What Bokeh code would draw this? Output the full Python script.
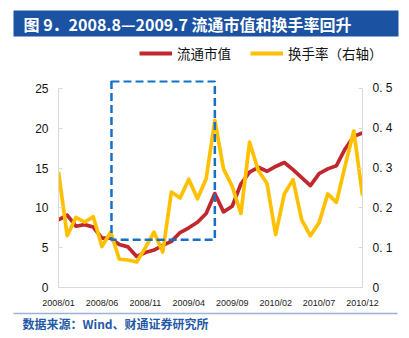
from bokeh.plotting import figure
from bokeh.models import (Range1d, LinearAxis, FixedTicker, BoxAnnotation,
                          Legend, LegendItem, CustomJSTickFormatter)
from bokeh.core.properties import value
from bokeh.embed import file_html
from bokeh.resources import INLINE

# ---- data ----
month_index = list(range(36))
tick_positions = [0, 5, 10, 15, 20, 25, 30, 35]
tick_labels = ["2008/01", "2008/06", "2008/11", "2009/04", "2009/09", "2010/02", "2010/07", "2010/12"]

market_value = [8.5, 9.1, 7.7, 7.9, 7.6, 6.2, 6.2, 5.4, 5.1, 3.9, 4.4, 4.7, 5.3, 5.8, 6.9, 7.5,
                8.2, 9.3, 11.8, 9.5, 10.2, 13.0, 14.5, 15.1, 14.6, 15.2, 15.7, 14.8, 13.8, 12.8,
                14.3, 14.9, 15.3, 17.4, 19.0, 19.4]
turnover = [0.29, 0.13, 0.176, 0.164, 0.178, 0.103, 0.139, 0.071, 0.069, 0.064, 0.10, 0.139,
            0.089, 0.24, 0.225, 0.272, 0.223, 0.273, 0.42, 0.298, 0.254, 0.186, 0.365, 0.294,
            0.262, 0.133, 0.235, 0.271, 0.17, 0.13, 0.163, 0.235, 0.214, 0.306, 0.393, 0.231]

left_ticks = [0, 5, 10, 15, 20, 25]
right_ticks = [0, 0.1, 0.2, 0.3, 0.4, 0.5]

title_text = "图 9．2008.8—2009.7 流通市值和换手率回升"
source_text = "数据来源：Wind、财通证券研究所"
series_names = ["流通市值", "换手率（右轴）"]

RED = "#C0282E"
YELLOW = "#FFC000"
AXIS_GRAY = "#D9D9D9"
BLUE_DARK = "#1C52A2"
CJK = "Noto Sans CJK SC"
W = 409
NAN = float("nan")


def blank_figure(height):
    f = figure(width=W, height=height, output_backend="svg", toolbar_location=None,
               x_range=Range1d(0, W), y_range=Range1d(height, 0),
               x_axis_type=None, y_axis_type=None,
               min_border_left=0, min_border_right=0, min_border_top=0, min_border_bottom=0,
               background_fill_color="white", border_fill_color="white")
    f.outline_line_color = None
    f.grid.visible = False
    return f


# ---- header: title bar + legend ----
head = blank_figure(80)
head.quad(left=[13], right=[398], top=[10], bottom=[36], fill_color=BLUE_DARK, line_color=None)
head.text(x=[23], y=[23], text=[title_text], text_color="white", text_baseline="middle",
          text_align="left", text_font=value(CJK), text_font_style="bold", text_font_size="16px")
leg_red = head.line(x=[NAN], y=[NAN], line_color=RED, line_width=4)
leg_yel = head.line(x=[NAN], y=[NAN], line_color=YELLOW, line_width=4)
legend = Legend(items=[LegendItem(label=series_names[0], renderers=[leg_red]),
                       LegendItem(label=series_names[1], renderers=[leg_yel])],
                orientation="horizontal", location=(139, 17), padding=0, margin=0,
                border_line_color=None, background_fill_alpha=0,
                glyph_width=33, glyph_height=16, label_height=16, label_standoff=5, spacing=19,
                label_text_font=CJK, label_text_font_size="13.5px", label_text_color="#111111")
head.add_layout(legend)

# ---- main chart ----
p = figure(width=W, height=230, output_backend="svg", toolbar_location=None,
           x_range=Range1d(0, 35), y_range=Range1d(0, 26),
           min_border_left=58, min_border_right=47, min_border_top=0, min_border_bottom=23,
           background_fill_color="white", border_fill_color="white")
p.outline_line_color = None
p.grid.visible = False
p.extra_y_ranges = {"right": Range1d(0, 0.52)}

xa = p.xaxis[0]
xa.ticker = FixedTicker(ticks=tick_positions)
xa.major_label_overrides = {t: l for t, l in zip(tick_positions, tick_labels)}
xa.axis_line_color = AXIS_GRAY
xa.major_tick_line_color = None
xa.minor_tick_line_color = None
xa.major_label_text_font = "Liberation Sans"
xa.major_label_text_font_size = "9px"
xa.major_label_text_color = "#222222"
xa.major_label_standoff = 4

ya = p.yaxis[0]
ya.ticker = FixedTicker(ticks=left_ticks)
ya.bounds = (0, 25)
ya.axis_line_color = AXIS_GRAY
ya.major_tick_line_color = AXIS_GRAY
ya.major_tick_in = 4
ya.major_tick_out = 0
ya.minor_tick_line_color = None
ya.major_label_text_font = "Liberation Sans"
ya.major_label_text_font_size = "12px"
ya.major_label_text_color = "#111111"
ya.major_label_standoff = 10

ra = LinearAxis(y_range_name="right", ticker=FixedTicker(ticks=right_ticks), bounds=(0, 0.5))
ra.formatter = CustomJSTickFormatter(code="return tick === 0 ? '0' : tick.toFixed(1).replace('.', '. ');")
ra.axis_line_color = AXIS_GRAY
ra.major_tick_line_color = AXIS_GRAY
ra.major_tick_in = 4
ra.major_tick_out = 0
ra.minor_tick_line_color = None
ra.major_label_text_font = "Liberation Sans"
ra.major_label_text_font_size = "12px"
ra.major_label_text_color = "#111111"
ra.major_label_standoff = 10
p.add_layout(ra, "right")

p.line(month_index, market_value, line_color=RED, line_width=3.7, line_join="round")
p.line(month_index, turnover, y_range_name="right", line_color=YELLOW, line_width=3.7,
       line_join="round")

p.add_layout(BoxAnnotation(left=6.1, right=18.0, bottom=6.0, top=25.9,
                           fill_alpha=0, line_alpha=1,
                           line_color="#1570C8", line_width=2.5, line_dash="8 4"))

# ---- footer: separator + source ----
foot = blank_figure(28)
foot.segment(x0=[13], y0=[3], x1=[397], y1=[3], line_color="#9AB3D8", line_width=1.5)
foot.text(x=[22], y=[13], text=[source_text], text_color="#1F5AA6", text_baseline="middle",
          text_align="left", text_font=value(CJK), text_font_style="bold", text_font_size="12px")

open("out.html", "w").write(file_html([head, p, foot], INLINE))
